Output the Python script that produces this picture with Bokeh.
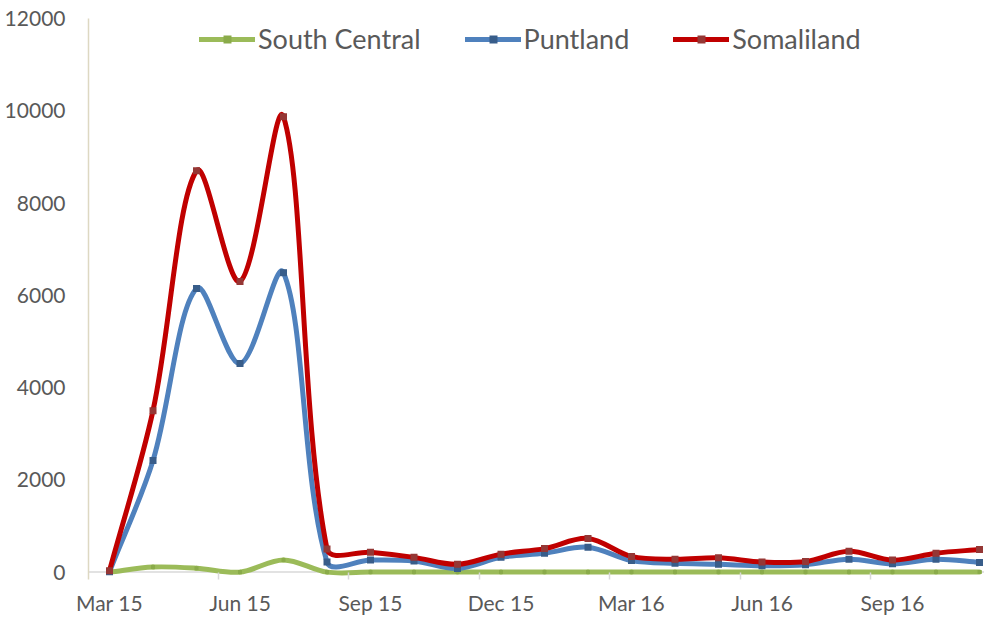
import math
from bokeh.plotting import figure
from bokeh.models import ColumnDataSource, FixedTicker, Span, Legend, LegendItem, Range1d
from bokeh.embed import file_html
from bokeh.resources import INLINE

months = ["Mar 15", "Apr 15", "May 15", "Jun 15", "Jul 15", "Aug 15", "Sep 15",
          "Oct 15", "Nov 15", "Dec 15", "Jan 16", "Feb 16", "Mar 16", "Apr 16",
          "May 16", "Jun 16", "Jul 16", "Aug 16", "Sep 16", "Oct 16", "Nov 16"]
south_central = [0, 110, 85, 0, 265, 0, 0, 0, 0, 0, 0, 0, 0, 0, 0, 0, 0, 0, 0, 0, 0]
puntland = [10, 2420, 6150, 4520, 6490, 220, 260, 240, 80, 320, 410, 540,
            250, 190, 170, 140, 160, 280, 180, 280, 210]
somaliland = [30, 3500, 8700, 6300, 9870, 500, 430, 320, 170, 390, 510, 730,
              340, 280, 310, 220, 230, 450, 260, 410, 490]
tick_labels = ["Mar 15", "Jun 15", "Sep 15", "Dec 15", "Mar 16", "Jun 16", "Sep 16"]
y_ticks = [0, 2000, 4000, 6000, 8000, 10000, 12000]

xs = list(range(len(months)))
FONT = "Lato"

# pixel scale of the plot frame (used only for the smoothing's distance weights)
PX_PER_X = 43.5
PX_PER_Y = 556.0 / 12000.0


def smooth_source(xv, yv):
    # Excel-style smoothed line: cubic Bezier segments with distance-weighted
    # Catmull-Rom control points
    n = len(xv)
    pts = [(xv[i], yv[i]) for i in range(n)]

    def dist(a, b):
        return math.hypot((a[0] - b[0]) * PX_PER_X, (a[1] - b[1]) * PX_PER_Y)

    d = dict(x0=[], y0=[], x1=[], y1=[], cx0=[], cy0=[], cx1=[], cy1=[])
    for i in range(n - 1):
        p1, p2 = pts[i], pts[i + 1]
        p0 = pts[i - 1] if i > 0 else p1
        p3 = pts[i + 2] if i + 2 < n else p2
        d01, d12, d23 = dist(p0, p1), dist(p1, p2), dist(p2, p3)
        f0 = (d12 / (d01 + d12)) / 3.0 if d01 + d12 > 0 else 0
        f1 = (d12 / (d12 + d23)) / 3.0 if d12 + d23 > 0 else 0
        d["x0"].append(p1[0]); d["y0"].append(p1[1])
        d["x1"].append(p2[0]); d["y1"].append(p2[1])
        d["cx0"].append(p1[0] + f0 * (p2[0] - p0[0]))
        d["cy0"].append(p1[1] + f0 * (p2[1] - p0[1]))
        d["cx1"].append(p2[0] - f1 * (p3[0] - p1[0]))
        d["cy1"].append(p2[1] - f1 * (p3[1] - p1[1]))
    return ColumnDataSource(d)


p = figure(width=984, height=617, output_backend="svg", toolbar_location=None,
           x_range=Range1d(-0.483, 20.115), y_range=Range1d(-160, 12000),
           min_border_left=88, min_border_right=0, min_border_top=18,
           min_border_bottom=36)
p.outline_line_color = None
p.xgrid.grid_line_color = None
p.ygrid.grid_line_color = None
p.background_fill_color = "white"
p.border_fill_color = "white"

# zero baseline
p.add_layout(Span(location=0, dimension="width", line_color="#d9d9d9",
                  line_width=1.5, level="underlay"))

series = [
    ("South Central", south_central, "#9bbb59", "#8aab4a", 4),
    ("Puntland", puntland, "#4f81bd", "#385d8a", 7),
    ("Somaliland", somaliland, "#c00000", "#953735", 7),
]
items = []
for name, vals, lc, mc, ms in series:
    src = smooth_source(xs, vals)
    r_line = p.bezier(x0="x0", y0="y0", x1="x1", y1="y1", cx0="cx0", cy0="cy0",
                      cx1="cx1", cy1="cy1", source=src, line_color=lc,
                      line_width=5, line_cap="round")
    r_mark = p.scatter(xs, vals, marker="square", size=ms, fill_color=mc,
                       line_color=None)
    items.append(LegendItem(label=name, renderers=[r_line, r_mark]))

legend = Legend(items=items, orientation="horizontal", location=(111, 524),
                glyph_width=56, glyph_height=20, label_standoff=3, spacing=44,
                padding=0, margin=0, border_line_color=None,
                background_fill_alpha=0, label_text_font=FONT,
                label_text_font_size="27px", label_text_color="#595959")
p.add_layout(legend, "center")

# x axis
xa = p.xaxis[0]
xa.ticker = FixedTicker(ticks=[0, 3, 6, 9, 12, 15, 18],
                        minor_ticks=[-0.5, 2.5, 5.5, 8.5, 11.5, 14.5, 17.5])
xa.major_label_overrides = {i * 3: lab for i, lab in enumerate(tick_labels)}
xa.axis_line_color = None
xa.major_tick_line_color = None
xa.major_tick_out = 0
xa.minor_tick_in = 7
xa.minor_tick_out = 0
xa.minor_tick_line_color = "#d9d9d9"
xa.minor_tick_line_width = 1.5
xa.major_label_standoff = 10
xa.major_label_text_font = FONT
xa.major_label_text_font_size = "21px"
xa.major_label_text_color = "#595959"

# y axis
ya = p.yaxis[0]
ya.ticker = FixedTicker(ticks=y_ticks)
ya.axis_line_color = "#ddd8c2"
ya.axis_line_width = 1.5
ya.major_tick_line_color = None
ya.minor_tick_line_color = None
ya.major_tick_out = 0
ya.major_label_standoff = 23
ya.major_label_text_font = FONT
ya.major_label_text_font_size = "21px"
ya.major_label_text_color = "#595959"

open("out.html", "w").write(file_html(p, INLINE))
